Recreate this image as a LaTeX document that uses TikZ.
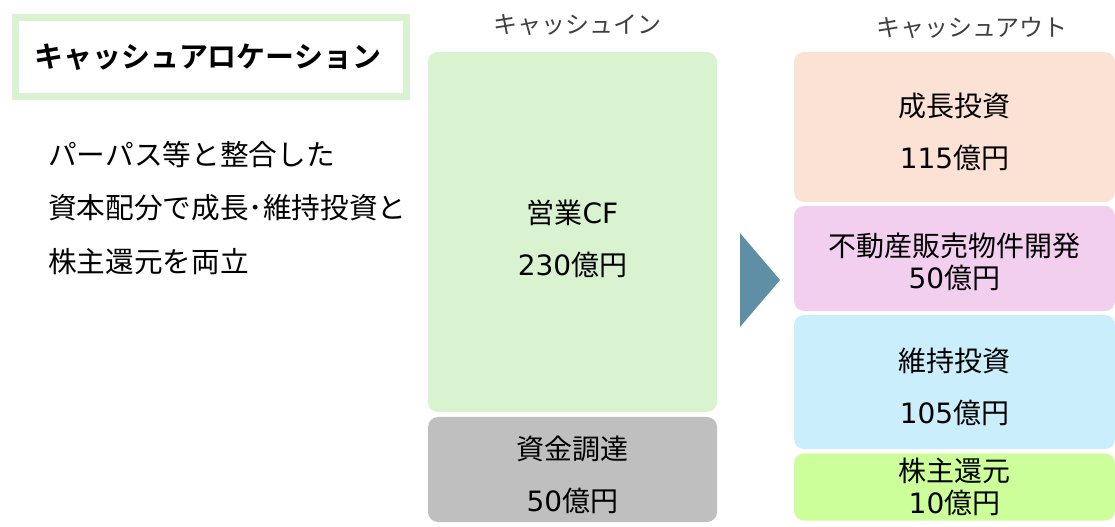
\documentclass[tikz,border=0pt]{standalone}
\usepackage{fontspec}
\setmainfont{Noto Sans CJK JP}[BoldFont={Noto Sans CJK JP Bold}]
\newfontfamily\latinfont{DejaVu Sans}
\newcommand\lat[1]{{\latinfont #1}}
\definecolor{ingreen}{HTML}{D9F2D0}
\definecolor{fundgray}{HTML}{BFBFBF}
\definecolor{groworange}{HTML}{FBE2D5}
\definecolor{estatepink}{HTML}{F2CEEF}
\definecolor{keepblue}{HTML}{CAEEFB}
\definecolor{retlime}{HTML}{CCFF99}
\definecolor{arrowteal}{HTML}{5E8FA4}
\definecolor{headgray}{HTML}{404040}

\begin{document}
\begin{tikzpicture}[x=0.75pt,y=-0.75pt,every node/.style={inner sep=0pt,align=center,font=\fontsize{21}{25}\selectfont},cashbox/.style={rounded corners=7.5pt,minimum width=216.75pt},outbox/.style={cashbox,minimum width=240.75pt},boxtext/.style={yshift=-4pt},head/.style={text=headgray,font=\fontsize{18}{22}\selectfont}]
\useasboundingbox (0,0) rectangle (1115,527);
% title
\draw[ingreen,line width=5.25pt] (15.5,17.5) rectangle (406.5,96.5);
\node[font=\fontsize{21.75}{26}\selectfont\bfseries] (title) at (208,57) {キャッシュアロケーション};
\node[align=left,anchor=west,font=\fontsize{21.5}{40}\selectfont] (policy) at (48,208) {パーパス等と整合した\\資本配分で成長･維持投資と\\株主還元を両立};
% cash in
\node[head] (inhead) at (577,25) {キャッシュイン};
\node[cashbox,fill=ingreen,minimum height=270pt] (opcf) at (572.5,232) {};
\node[boxtext,yshift=-1pt] (opcftxt) at (opcf.center) {営業\lat{CF}\\[14pt]\lat{230}億円};
\node[cashbox,fill=fundgray,minimum height=78.75pt] (fund) at (572.5,469.5) {};
\node[boxtext] (fundtxt) at (fund.center) {資金調達\\[14pt]\lat{50}億円};
% arrow
\fill[arrowteal] (740,233) -- (780,280) -- (740,327) -- cycle;
% cash out
\node[head] (outhead) at (972,28) {キャッシュアウト};
\node[outbox,fill=groworange,minimum height=112.5pt] (grow) at (954.5,127) {};
\node[boxtext] (growtxt) at (grow.center) {成長投資\\[14pt]\lat{115}億円};
\node[outbox,fill=estatepink,minimum height=78.75pt] (estate) at (954.5,258.5) {};
\node[boxtext,yshift=1.5pt] (estatetxt) at (estate.center) {不動産販売物件開発\\[-1pt]\lat{50}億円};
\node[outbox,fill=keepblue,minimum height=100.5pt] (keep) at (954.5,382) {};
\node[boxtext] (keeptxt) at (keep.center) {維持投資\\[14pt]\lat{105}億円};
\node[outbox,fill=retlime,minimum height=50.25pt] (ret) at (954.5,487) {};
\node[boxtext,yshift=4pt] (rettxt) at (ret.center) {株主還元\\[-1pt]\lat{10}億円};
\end{tikzpicture}
\end{document}
